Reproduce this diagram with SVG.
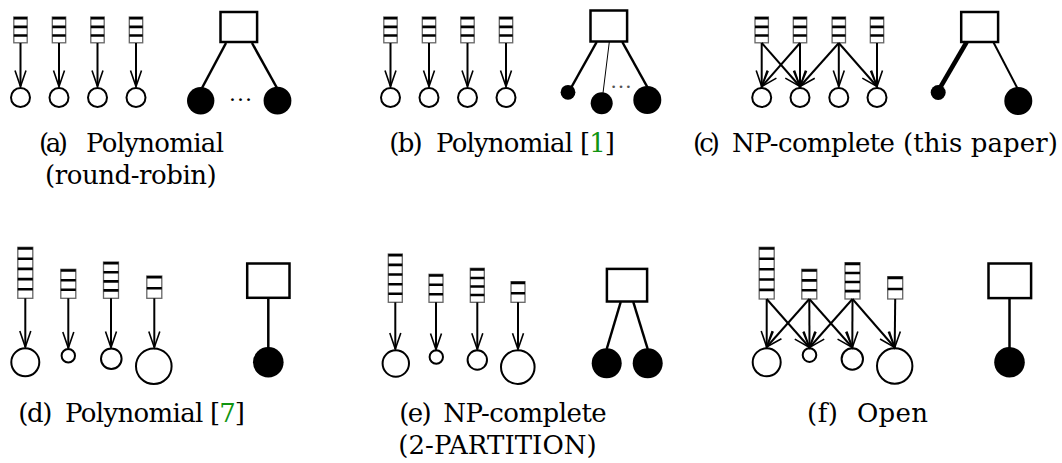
<svg xmlns="http://www.w3.org/2000/svg" width="1062" height="463" viewBox="0 0 1062 463">
<style>
.q rect{fill:#fff;stroke:#666;stroke-width:1.3}
.q path{stroke:#000;stroke-width:2.6;fill:none}
.task{fill:#fff;stroke:#000;stroke-width:2}
.proc{fill:#000}
.box{fill:#fff;stroke:#000;stroke-width:2.5}
.arr line{stroke:#000;stroke-width:2;marker-end:url(#ah)}
.edge{stroke:#000;stroke-width:2.5}
.cap{font-family:"DejaVu Serif","Liberation Serif",serif;font-size:26px;fill:#000}
.dots{font-family:"Liberation Serif","DejaVu Serif",serif}
.cite{fill:#119411}
</style>
<defs>
<marker id="ah" markerUnits="userSpaceOnUse" viewBox="-18 -8 20 16" refX="0" refY="0" markerWidth="20" markerHeight="16" orient="auto" overflow="visible">
<path d="M-16,-5.5 L0,0 L-16,5.5" fill="none" stroke="#000" stroke-width="1.6"/>
</marker>
</defs>

<!-- (a) -->
<g id="panel-a">
<g id="a-queues">
<g class="q" id="a-q1"><rect x="13.8" y="17" width="13.4" height="25.8"/><path d="M13.8 18.2h13.4M13.8 26.9h13.4M13.8 35.5h13.4"/></g>
<g class="q" id="a-q2"><rect x="52.3" y="17" width="13.4" height="25.8"/><path d="M52.3 18.2h13.4M52.3 26.9h13.4M52.3 35.5h13.4"/></g>
<g class="q" id="a-q3"><rect x="90.8" y="17" width="13.4" height="25.8"/><path d="M90.8 18.2h13.4M90.8 26.9h13.4M90.8 35.5h13.4"/></g>
<g class="q" id="a-q4"><rect x="129.3" y="17" width="13.4" height="25.8"/><path d="M129.3 18.2h13.4M129.3 26.9h13.4M129.3 35.5h13.4"/></g>
</g>
<g id="a-tasks">
<circle class="task" cx="20.5" cy="97.5" r="9.5"/><circle class="task" cx="59" cy="97.5" r="9.5"/><circle class="task" cx="97.5" cy="97.5" r="9.5"/><circle class="task" cx="136" cy="97.5" r="9.5"/>
</g>
<g id="a-box"><rect class="box" x="220.5" y="12" width="36.6" height="30"/></g>
<g id="a-procs"><circle class="proc" cx="200.7" cy="100.7" r="13.7"/><circle class="proc" cx="277.5" cy="100.7" r="13.9"/></g>
<g id="a-connectors">
<g class="arr"><line x1="20.5" y1="43" x2="20.5" y2="86.5"/><line x1="59" y1="43" x2="59" y2="86.5"/><line x1="97.5" y1="43" x2="97.5" y2="86.5"/><line x1="136" y1="43" x2="136" y2="86.5"/></g>
<line class="edge" x1="226" y1="43" x2="202" y2="88"/><line class="edge" x1="252" y1="43" x2="277" y2="88"/>
</g>
<text class="dots" x="228.5" y="101" style="font-size:24px">…</text>
</g>

<!-- (b) -->
<g id="panel-b">
<g id="b-queues">
<g class="q" id="b-q1"><rect x="383.8" y="17" width="13.4" height="25.8"/><path d="M383.8 18.2h13.4M383.8 26.9h13.4M383.8 35.5h13.4"/></g>
<g class="q" id="b-q2"><rect x="422.3" y="17" width="13.4" height="25.8"/><path d="M422.3 18.2h13.4M422.3 26.9h13.4M422.3 35.5h13.4"/></g>
<g class="q" id="b-q3"><rect x="460.8" y="17" width="13.4" height="25.8"/><path d="M460.8 18.2h13.4M460.8 26.9h13.4M460.8 35.5h13.4"/></g>
<g class="q" id="b-q4"><rect x="499.3" y="17" width="13.4" height="25.8"/><path d="M499.3 18.2h13.4M499.3 26.9h13.4M499.3 35.5h13.4"/></g>
</g>
<g id="b-tasks">
<circle class="task" cx="390.5" cy="97.5" r="9.5"/><circle class="task" cx="429" cy="97.5" r="9.5"/><circle class="task" cx="467.5" cy="97.5" r="9.5"/><circle class="task" cx="506" cy="97.5" r="9.5"/>
</g>
<g id="b-box"><rect class="box" x="590.5" y="10.5" width="36.6" height="31"/></g>
<g id="b-procs"><circle class="proc" cx="568" cy="92.3" r="7.4"/><circle class="proc" cx="601.7" cy="103.3" r="11"/><circle class="proc" cx="647.3" cy="100" r="14"/></g>
<g id="b-connectors">
<g class="arr"><line x1="390.5" y1="43" x2="390.5" y2="86.5"/><line x1="429" y1="43" x2="429" y2="86.5"/><line x1="467.5" y1="43" x2="467.5" y2="86.5"/><line x1="506" y1="43" x2="506" y2="86.5"/></g>
<line class="edge" x1="596.7" y1="42" x2="571.5" y2="87"/>
<line stroke="#000" stroke-width="1" x1="609.3" y1="42" x2="603" y2="93"/>
<line class="edge" x1="622.3" y1="42" x2="647.3" y2="87"/>
</g>
<text class="dots" x="610" y="88" style="font-size:22px;fill:#555">…</text>
</g>

<!-- (c) -->
<g id="panel-c">
<g id="c-queues">
<g class="q" id="c-q1"><rect x="755" y="17" width="13.4" height="25.8"/><path d="M755 18.2h13.4M755 26.9h13.4M755 35.5h13.4"/></g>
<g class="q" id="c-q2"><rect x="793.3" y="17" width="13.4" height="25.8"/><path d="M793.3 18.2h13.4M793.3 26.9h13.4M793.3 35.5h13.4"/></g>
<g class="q" id="c-q3"><rect x="832.1" y="17" width="13.4" height="25.8"/><path d="M832.1 18.2h13.4M832.1 26.9h13.4M832.1 35.5h13.4"/></g>
<g class="q" id="c-q4"><rect x="870.3" y="17" width="13.4" height="25.8"/><path d="M870.3 18.2h13.4M870.3 26.9h13.4M870.3 35.5h13.4"/></g>
</g>
<g id="c-tasks">
<circle class="task" cx="761.7" cy="97.5" r="9.5"/><circle class="task" cx="800" cy="97.5" r="9.5"/><circle class="task" cx="838.8" cy="97.5" r="9.5"/><circle class="task" cx="877" cy="97.5" r="9.5"/>
</g>
<g id="c-box"><rect class="box" x="961.2" y="12" width="36.9" height="30"/></g>
<g id="c-procs"><circle class="proc" cx="938.2" cy="92.5" r="7.5"/><circle class="proc" cx="1018.3" cy="101" r="14"/></g>
<g id="c-connectors">
<g class="arr">
<line x1="761.7" y1="43" x2="761.7" y2="86.5"/><line x1="761.7" y1="43" x2="800" y2="86.5"/>
<line x1="800" y1="43" x2="761.7" y2="86.5"/><line x1="800" y1="43" x2="800" y2="86.5"/>
<line x1="838.8" y1="43" x2="800" y2="86.5"/><line x1="838.8" y1="43" x2="838.8" y2="86.5"/><line x1="838.8" y1="43" x2="877" y2="86.5"/>
<line x1="877" y1="43" x2="877" y2="86.5"/>
</g>
<line stroke="#000" stroke-width="4.5" x1="966.7" y1="42" x2="940.5" y2="87"/>
<line stroke="#000" stroke-width="2" x1="993.3" y1="42" x2="1017.3" y2="88"/>
</g>
</g>

<!-- (d) -->
<g id="panel-d">
<g id="d-queues">
<g class="q" id="d-q1"><rect x="17.8" y="247.3" width="15" height="51"/><path d="M17.8 248.5h15M17.8 258.7h15M17.8 268.9h15M17.8 279.1h15M17.8 289.3h15"/></g>
<g class="q" id="d-q2"><rect x="60.8" y="269.3" width="15" height="29"/><path d="M60.8 270.5h15M60.8 280.2h15M60.8 289.8h15"/></g>
<g class="q" id="d-q3"><rect x="103.5" y="262" width="15" height="36.3"/><path d="M103.5 263.2h15M103.5 272.3h15M103.5 281.4h15M103.5 290.4h15"/></g>
<g class="q" id="d-q4"><rect x="146.8" y="276" width="15" height="22.3"/><path d="M146.8 277.2h15M146.8 288.3h15"/></g>
</g>
<g id="d-tasks">
<circle class="task" cx="25.3" cy="362.3" r="14"/><circle class="task" cx="68.3" cy="355.8" r="6.7"/><circle class="task" cx="111.3" cy="358.7" r="10.3"/><circle class="task" cx="153.8" cy="366.2" r="17.8"/>
</g>
<g id="d-box"><rect class="box" x="247.2" y="263.5" width="42.3" height="34.3"/></g>
<g id="d-procs"><circle class="proc" cx="268.3" cy="362.3" r="15.3"/></g>
<g id="d-connectors">
<g class="arr"><line x1="25.3" y1="298.3" x2="25.3" y2="347"/><line x1="68.3" y1="298.3" x2="68.3" y2="348"/><line x1="111" y1="298.3" x2="111" y2="347.5"/><line x1="154.3" y1="298.3" x2="154.3" y2="347.4"/></g>
<line class="edge" x1="268.3" y1="299" x2="268.3" y2="348"/>
</g>
</g>

<!-- (e) -->
<g id="panel-e">
<g id="e-queues">
<g class="q" id="e-q1"><rect x="388.3" y="254" width="14" height="48.3"/><path d="M388.3 255.2h14M388.3 264.9h14M388.3 274.5h14M388.3 284.2h14M388.3 293.8h14"/></g>
<g class="q" id="e-q2"><rect x="429" y="274.3" width="14" height="28"/><path d="M429 275.5h14M429 284.8h14M429 294.2h14"/></g>
<g class="q" id="e-q3"><rect x="470.3" y="268.3" width="14" height="34"/><path d="M470.3 269.5h14M470.3 278h14M470.3 286.5h14M470.3 295h14"/></g>
<g class="q" id="e-q4"><rect x="511" y="281.7" width="14" height="20.6"/><path d="M511 282.9h14M511 293.2h14"/></g>
</g>
<g id="e-tasks">
<circle class="task" cx="395.8" cy="363.5" r="13.2"/><circle class="task" cx="436.3" cy="357" r="6.7"/><circle class="task" cx="477.3" cy="360" r="9.7"/><circle class="task" cx="517.8" cy="367.1" r="16.8"/>
</g>
<g id="e-box"><rect class="box" x="606.9" y="268.9" width="40.2" height="32.6"/></g>
<g id="e-procs"><circle class="proc" cx="606.7" cy="363.3" r="15"/><circle class="proc" cx="647.7" cy="363.3" r="15"/></g>
<g id="e-connectors">
<g class="arr"><line x1="395.3" y1="302.3" x2="395.3" y2="349"/><line x1="436" y1="302.3" x2="436" y2="349.5"/><line x1="477.3" y1="302.3" x2="477.3" y2="349.3"/><line x1="518" y1="302.3" x2="518" y2="349.3"/></g>
<line class="edge" x1="620.7" y1="302" x2="606.7" y2="349"/><line class="edge" x1="633.3" y1="302" x2="647.7" y2="349"/>
</g>
</g>

<!-- (f) -->
<g id="panel-f">
<g id="f-queues">
<g class="q" id="f-q1"><rect x="759.2" y="247.3" width="15" height="51.7"/><path d="M759.2 248.5h15M759.2 258.8h15M759.2 269.2h15M759.2 279.5h15M759.2 289.9h15"/></g>
<g class="q" id="f-q2"><rect x="801.8" y="269.3" width="15" height="29.7"/><path d="M801.8 270.5h15M801.8 280.4h15M801.8 290.3h15"/></g>
<g class="q" id="f-q3"><rect x="845" y="262.7" width="15" height="36.3"/><path d="M845 263.9h15M845 273h15M845 282h15M845 291.1h15"/></g>
<g class="q" id="f-q4"><rect x="887.7" y="276.7" width="15" height="22.3"/><path d="M887.7 277.9h15M887.7 289h15"/></g>
</g>
<g id="f-tasks">
<circle class="task" cx="766.7" cy="362.3" r="14"/><circle class="task" cx="809.5" cy="355.1" r="6.8"/><circle class="task" cx="852.3" cy="359" r="10.7"/><circle class="task" cx="894.7" cy="366" r="17.7"/>
</g>
<g id="f-box"><rect class="box" x="988.5" y="263.5" width="42.6" height="34.6"/></g>
<g id="f-procs"><circle class="proc" cx="1009.5" cy="362.3" r="15.3"/></g>
<g id="f-connectors">
<g class="arr">
<line x1="766.7" y1="299" x2="766.7" y2="347"/><line x1="766.7" y1="299" x2="809.5" y2="347.5"/>
<line x1="809.3" y1="299" x2="766.7" y2="347"/><line x1="809.3" y1="299" x2="809.5" y2="347.5"/><line x1="809.3" y1="299" x2="852.3" y2="347.5"/>
<line x1="852.5" y1="299" x2="809.5" y2="347.5"/><line x1="852.5" y1="299" x2="852.3" y2="347.5"/><line x1="852.5" y1="299" x2="894.7" y2="347.5"/>
<line x1="895.2" y1="299" x2="894.7" y2="347.5"/>
</g>
<line class="edge" x1="1009.5" y1="299" x2="1009.5" y2="348"/>
</g>
</g>

<!-- captions -->
<g id="captions">
<text class="cap" x="39" y="151.7" textLength="29" lengthAdjust="spacing">(a)</text>
<text class="cap" x="86" y="151.7" textLength="138" lengthAdjust="spacing">Polynomial</text>
<text class="cap" x="45" y="184" textLength="171.7" lengthAdjust="spacing">(round-robin)</text>

<text class="cap" x="389.3" y="151.7" textLength="33.4" lengthAdjust="spacing">(b)</text>
<text class="cap" x="436" y="151.7" textLength="137" lengthAdjust="spacing">Polynomial</text>
<text class="cap" x="580" y="151.7" textLength="35" lengthAdjust="spacing">[<tspan class="cite">1</tspan>]</text>

<text class="cap" x="693" y="151.7" textLength="27" lengthAdjust="spacing">(c)</text>
<text class="cap" x="732" y="151.7" textLength="163" lengthAdjust="spacing">NP-complete</text>
<text class="cap" x="903" y="151.7" textLength="155" lengthAdjust="spacing">(this paper)</text>

<text class="cap" x="18.3" y="421.7" textLength="34" lengthAdjust="spacing">(d)</text>
<text class="cap" x="65" y="421.7" textLength="138.3" lengthAdjust="spacing">Polynomial</text>
<text class="cap" x="210" y="421.7" textLength="35" lengthAdjust="spacing">[<tspan class="cite">7</tspan>]</text>

<text class="cap" x="399.3" y="421.7" textLength="32.4" lengthAdjust="spacing">(e)</text>
<text class="cap" x="443.3" y="421.7" textLength="163.4" lengthAdjust="spacing">NP-complete</text>
<text class="cap" x="398.3" y="454" textLength="198.4" lengthAdjust="spacing">(2-PARTITION)</text>

<text class="cap" x="807" y="421.7" textLength="31" lengthAdjust="spacing">(f)</text>
<text class="cap" x="857" y="421.7" textLength="71" lengthAdjust="spacing">Open</text>
</g>
</svg>
